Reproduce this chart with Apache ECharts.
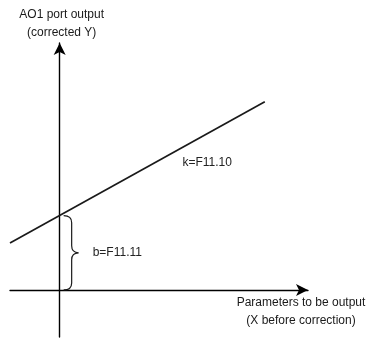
<!DOCTYPE html>
<html>
<head>
<meta charset="utf-8">
<script src="https://cdn.jsdelivr.net/npm/echarts@6/dist/echarts.min.js"></script>
<style>
html,body{margin:0;padding:0;background:#fff;}
#c{width:372px;height:339px;}
</style>
</head>
<body>
<div id="c"></div>
<script>
// ---- data ----
var xRange = [-1, 5];
var yRange = [-1, 5.25];
var lineX = [-1, 4.13];
var lineY = [1.0, 4.0];
var braceRange = [0, 1.58];
var yAxisTitle = 'AO1 port output\n(corrected Y)';
var xAxisTitle = 'Parameters to be output\n(X before correction)';
var slopeLabel = 'k=F11.10';
var slopeLabelAt = [2.97, 2.7];
var interceptLabel = 'b=F11.11';

var lineData = lineX.map(function (x, i) { return [x, lineY[i]]; });
var FONT = '12px "Liberation Sans", Arial, sans-serif';

var chart = echarts.init(document.getElementById('c'), null, {renderer: 'canvas'});
chart.setOption({
  animation: false,
  backgroundColor: '#ffffff',
  grid: {left: 10, right: 64, top: 43, bottom: 2, containLabel: false},
  xAxis: {
    type: 'value', min: xRange[0], max: xRange[1],
    axisLine: {show: true, onZero: true, symbol: ['none', 'arrow'], symbolSize: [9, 12],
      lineStyle: {color: '#000', width: 1.4}},
    axisTick: {show: false}, axisLabel: {show: false}, splitLine: {show: false},
    name: xAxisTitle, nameLocation: 'end', nameGap: -7,
    nameTextStyle: {fontFamily: 'Liberation Sans', fontSize: 12, color: '#1a1a1a', align: 'center',
      verticalAlign: 'top', lineHeight: 18, padding: [4, 0, 0, 0]}
  },
  yAxis: {
    type: 'value', min: yRange[0], max: yRange[1],
    axisLine: {show: true, onZero: true, symbol: ['none', 'arrow'], symbolSize: [9, 12],
      lineStyle: {color: '#000', width: 1.4}},
    axisTick: {show: false}, axisLabel: {show: false}, splitLine: {show: false},
    name: yAxisTitle, nameLocation: 'end', nameGap: 1,
    nameTextStyle: {fontFamily: 'Liberation Sans', fontSize: 12, color: '#1a1a1a', align: 'center',
      verticalAlign: 'bottom', lineHeight: 18, padding: [0, 0, 0, 4]}
  },
  series: [
    {
      type: 'line', data: lineData, symbol: 'none', silent: true,
      lineStyle: {color: '#1a1a1a', width: 1.7},
      markPoint: {
        symbol: 'circle', symbolSize: 0, silent: true,
        label: {show: true, position: 'inside', formatter: slopeLabel,
          fontFamily: 'Liberation Sans', fontSize: 12, color: '#222'},
        data: [{coord: slopeLabelAt}]
      }
    },
    {
      type: 'custom', silent: true,
      data: [[braceRange[0], braceRange[1]]],
      renderItem: function (params, api) {
        var top = api.coord([0, api.value(1)]);
        var bot = api.coord([0, api.value(0)]);
        var x0 = top[0] + 4, xm = top[0] + 12, xt = top[0] + 19;
        var yt = top[1], yb = bot[1], ym = (yt + yb) / 2, r = 7;
        var d = 'M' + x0 + ' ' + yt +
          ' Q' + xm + ' ' + yt + ' ' + xm + ' ' + (yt + r) +
          ' L' + xm + ' ' + (ym - r) +
          ' Q' + xm + ' ' + ym + ' ' + xt + ' ' + ym +
          ' M' + xt + ' ' + ym +
          ' Q' + xm + ' ' + ym + ' ' + xm + ' ' + (ym + r) +
          ' L' + xm + ' ' + (yb - r) +
          ' Q' + xm + ' ' + yb + ' ' + x0 + ' ' + yb;
        return {
          type: 'group',
          children: [
            {type: 'path', shape: {pathData: d},
              style: {fill: 'none', stroke: '#1a1a1a', lineWidth: 1.2}},
            {type: 'text', style: {text: interceptLabel, x: xt + 14, y: ym,
              fill: '#222', font: FONT, verticalAlign: 'middle', align: 'left'}}
          ]
        };
      }
    }
  ]
});
</script>
</body>
</html>
